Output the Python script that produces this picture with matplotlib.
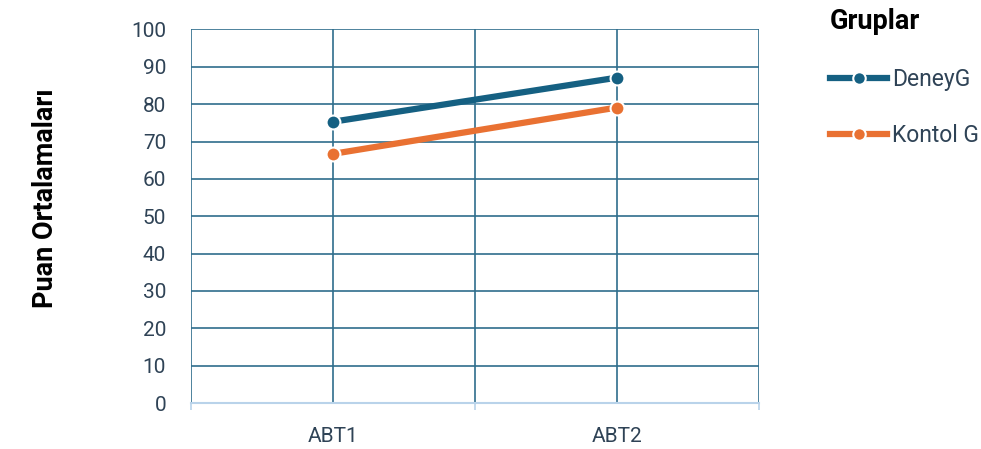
import numpy as np
import matplotlib.pyplot as plt
from matplotlib.lines import Line2D

plt.rcParams['font.family'] = ['Roboto', 'DejaVu Sans']

kategoriler = ['ABT1', 'ABT2']
deney = [75.3, 87.1]
kontrol = [66.7, 79.1]
seri_adlari = ['DeneyG', 'Kontol G']

mavi = '#156082'
turuncu = '#E97132'
yazi = '#2f4356'
izgara = '#2f6d8c'

fig = plt.figure(figsize=(9.81, 4.49), dpi=100)
ax = fig.add_axes([0.1947, 0.1024, 0.579, 0.832])

x = np.arange(len(kategoriler)) + 0.5
ax.set_xlim(0, 2)
ax.set_ylim(0, 100)

# izgara: kategori sinirlari ve ortalari
for gx in [0, 0.5, 1, 1.5, 2]:
    ax.axvline(gx, color=izgara, lw=1.2, zorder=1)
for gy in range(10, 101, 10):
    ax.axhline(gy, color=izgara, lw=1.2, zorder=1)

ax.plot(x, deney, color=mavi, lw=4.5, marker='o', ms=10, mfc=mavi,
        mec='white', mew=1.5, zorder=3, solid_capstyle='round')
ax.plot(x, kontrol, color=turuncu, lw=4.5, marker='o', ms=10, mfc=turuncu,
        mec='white', mew=1.5, zorder=3, solid_capstyle='round')

for s in ['top', 'right', 'left']:
    ax.spines[s].set_visible(False)
ax.spines['bottom'].set_color('#b9d3ea')
ax.spines['bottom'].set_linewidth(1.5)

ax.set_yticks(range(0, 101, 10))
ax.tick_params(axis='y', length=0, labelsize=15, labelcolor=yazi, pad=18)
ax.set_xticks([0, 1, 2])
ax.set_xticklabels([])
ax.tick_params(axis='x', which='major', length=5, color='#b9d3ea', width=1.2)
ax.set_xticks(x, minor=True)
ax.set_xticklabels(kategoriler, minor=True)
ax.tick_params(axis='x', which='minor', length=0, labelsize=15, labelcolor=yazi, pad=17)

fig.text(0.046, 0.558, 'Puan Ortalamaları', rotation=90, ha='center', va='center',
         fontsize=19.5, fontweight='bold', color='black')

fig.text(0.846, 0.953, 'Gruplar', ha='left', va='center', fontsize=19.5,
         fontweight='bold', color='black')

tutamaclar = [
    Line2D([], [], color=mavi, lw=4.5, marker='o', ms=9, mfc=mavi, mec='white', mew=1.5),
    Line2D([], [], color=turuncu, lw=4.5, marker='o', ms=9, mfc=turuncu, mec='white', mew=1.5),
]
fig.legend(tutamaclar, seri_adlari, loc='upper left', bbox_to_anchor=(0.846, 0.848),
           frameon=False, fontsize=16.5, labelcolor=yazi, handlelength=2.5,
           handletextpad=0.2, labelspacing=1.42, borderaxespad=0, borderpad=0)

fig.savefig('out.png', dpi=100)
